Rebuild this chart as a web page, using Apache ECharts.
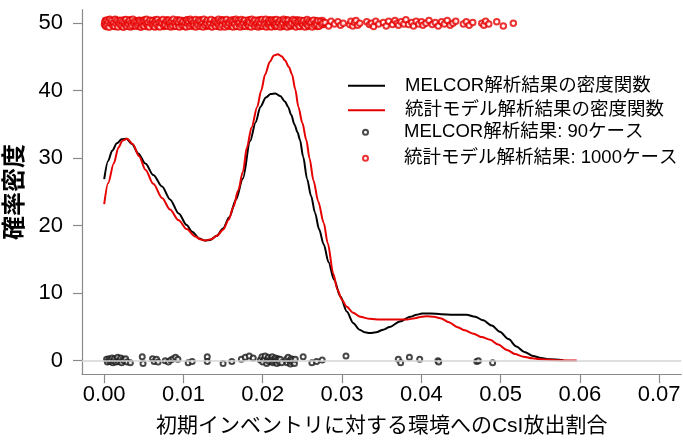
<!DOCTYPE html>
<html>
<head>
<meta charset="utf-8">
<script src="https://cdn.jsdelivr.net/npm/echarts@6/dist/echarts.min.js"></script>
<style>html,body{margin:0;padding:0;background:#fff;}#c{width:683px;height:441px;}</style>
</head>
<body>
<div id="c"></div>
<script>
// ---- data ----
const xTicks = [0, 0.01, 0.02, 0.03, 0.04, 0.05, 0.06, 0.07];
const yTicks = [0, 10, 20, 30, 40, 50];
const legendNames = ['MELCOR解析結果の密度関数', '統計モデル解析結果の密度関数', 'MELCOR解析結果: 90ケース', '統計モデル解析結果: 1000ケース'];

const melcorDensity = [
[0.0000,26.9],[0.0005,29.6],[0.0010,31.1],[0.0016,32.2],[0.0022,32.8],[0.0028,32.9],[0.0035,32.1],[0.0043,30.7],
[0.0052,29.2],[0.0062,27.5],[0.0073,25.8],[0.0083,23.9],[0.0094,21.8],[0.0104,20.1],[0.0111,19.1],[0.0120,18.1],
[0.0127,17.8],[0.0134,17.9],[0.0142,18.5],[0.0150,19.6],[0.0158,21.3],[0.0166,23.8],[0.0175,27.0],[0.0184,32.5],
[0.0191,35.3],[0.0197,37.6],[0.0204,39.0],[0.0210,39.5],[0.0216,39.6],[0.0222,39.2],[0.0228,38.4],[0.0232,37.6],
[0.0236,36.4],[0.0240,35.0],[0.0244,33.8],[0.0247,32.7],[0.0251,30.2],[0.0256,26.9],[0.0261,24.4],[0.0266,21.9],
[0.0271,19.5],[0.0277,17.2],[0.0283,14.6],[0.0290,12.0],[0.0298,9.5],[0.0306,7.3],[0.0314,5.6],[0.0322,4.6],
[0.0329,4.2],[0.0335,4.1],[0.0343,4.2],[0.0352,4.6],[0.0360,5.0],[0.0373,5.8],[0.0386,6.5],[0.0394,6.8],
[0.0401,7.0],[0.0412,7.0],[0.0425,6.9],[0.0440,6.8],[0.0457,6.8],[0.0468,6.5],[0.0478,6.0],[0.0489,5.2],
[0.0499,4.3],[0.0510,3.2],[0.0520,2.1],[0.0530,1.3],[0.0541,0.7],[0.0551,0.4],[0.0562,0.2],[0.0579,0.05]
];

const modelDensity = [
[0.0000,23.2],[0.0005,26.3],[0.0012,29.2],[0.0018,31.6],[0.0023,32.6],[0.0029,32.9],[0.0036,32.1],[0.0044,30.3],
[0.0052,28.3],[0.0062,26.2],[0.0073,24.1],[0.0083,22.4],[0.0094,20.8],[0.0104,19.5],[0.0115,18.4],[0.0121,18.0],
[0.0127,17.8],[0.0135,18.0],[0.0142,18.5],[0.0150,19.4],[0.0157,20.9],[0.0163,22.8],[0.0169,25.2],[0.0175,28.0],
[0.0180,31.6],[0.0186,34.6],[0.0193,37.6],[0.0198,40.0],[0.0203,42.4],[0.0209,44.3],[0.0214,45.2],[0.0219,45.4],
[0.0224,45.1],[0.0228,44.5],[0.0233,43.5],[0.0237,42.4],[0.0241,40.2],[0.0245,37.6],[0.0250,35.2],[0.0255,32.7],
[0.0259,30.0],[0.0264,26.7],[0.0270,23.6],[0.0277,20.4],[0.0282,17.4],[0.0289,12.9],[0.0294,10.6],[0.0300,9.0],
[0.0306,8.0],[0.0314,7.1],[0.0323,6.5],[0.0335,6.2],[0.0348,6.1],[0.0365,6.1],[0.0382,6.1],[0.0392,6.3],
[0.0400,6.5],[0.0407,6.6],[0.0416,6.5],[0.0424,6.3],[0.0435,5.7],[0.0445,5.0],[0.0455,4.5],[0.0466,4.0],
[0.0476,3.5],[0.0487,3.1],[0.0497,2.4],[0.0508,1.6],[0.0518,1.0],[0.0529,0.6],[0.0540,0.35],[0.0550,0.2],
[0.0570,0.08],[0.0596,0.02]
];

const melcorPoints = [
[0.0003,0.2],[0.0004,-0.2],[0.0006,0.3],[0.0007,-0.1],[0.0008,0.1],[0.0010,0.4],[0.0011,-0.3],[0.0012,0.0],
[0.0013,0.3],[0.0015,-0.2],[0.0016,0.2],[0.0017,0.5],[0.0018,-0.1],[0.0020,0.1],[0.0021,0.4],[0.0022,-0.3],
[0.0024,0.2],[0.0025,0.0],[0.0027,0.3],[0.0029,-0.2],[0.0033,-0.3],[0.0048,0.6],[0.0049,-0.4],
[0.0061,0.3],[0.0063,-0.1],[0.0066,0.2],[0.0068,-0.2],[0.0077,0.0],[0.0081,-0.2],[0.0084,0.1],[0.0087,0.3],
[0.0090,0.5],[0.0093,0.2],[0.0106,-0.3],[0.0111,-0.1],[0.0130,0.6],[0.0130,-0.1],
[0.0150,-0.4],[0.0161,-0.1],[0.0173,0.2],[0.0178,0.5],[0.0183,0.7],[0.0188,0.4],
[0.0197,0.1],[0.0199,0.6],[0.0200,-0.2],[0.0202,0.3],[0.0203,0.7],[0.0205,-0.4],[0.0206,0.2],[0.0207,0.5],
[0.0208,-0.1],[0.0210,0.3],[0.0211,0.0],[0.0212,0.6],[0.0213,-0.3],[0.0214,0.2],[0.0215,-0.1],[0.0216,0.4],
[0.0217,0.0],[0.0218,-0.4],[0.0219,0.3],[0.0220,0.1],[0.0221,-0.2],[0.0222,0.2],[0.0224,-0.3],
[0.0230,0.2],[0.0231,-0.3],[0.0232,0.5],[0.0234,0.0],[0.0235,-0.5],[0.0236,0.3],[0.0237,-0.2],[0.0238,0.1],
[0.0240,-0.4],[0.0241,0.2],[0.0251,0.6],[0.0262,-0.3],[0.0268,-0.1],[0.0275,0.1],[0.0305,0.7],
[0.0371,0.2],[0.0374,-0.3],[0.0385,0.5],[0.0398,0.2],[0.0421,0.0],[0.0422,-0.2],[0.0470,-0.1],[0.0472,0.0],
[0.0490,-0.3]
];

const modelPoints = [
[0.00003,49.8],[0.00014,50.4],[0.00022,49.5],[0.00035,50.1],[0.00044,49.9],[0.00056,50.5],[0.00067,49.6],[0.00078,50.2],[0.00089,49.7],
[0.00101,50.3],[0.00112,49.6],[0.00125,50.0],[0.00133,49.5],[0.00146,50.5],[0.00157,49.8],[0.00168,50.2],[0.00176,49.6],[0.00191,50.4],
[0.00205,49.7],[0.00213,50.1],[0.00227,49.5],[0.00236,50.4],[0.00248,49.9],[0.00259,50.5],[0.00263,49.6],[0.00279,50.0],[0.00288,49.8],
[0.00302,50.2],[0.00311,49.6],[0.00324,50.5],[0.00337,49.9],[0.00345,50.3],[0.00353,49.5],[0.00369,50.0],[0.00377,49.7],[0.00392,50.4],
[0.00404,49.9],[0.00416,50.3],[0.00428,49.6],[0.00433,50.1],[0.00447,49.5],[0.00458,50.4],[0.00466,49.8],[0.00481,50.2],[0.00494,49.7],
[0.00507,50.5],[0.00512,49.8],[0.00526,50.1],[0.00539,49.5],[0.00543,50.3],[0.00561,49.7],[0.00572,50.0],[0.00584,49.6],[0.00596,50.4],
[0.00603,49.6],[0.00618,50.2],[0.00625,49.9],[0.00642,50.5],[0.00651,49.5],[0.00664,50.0],[0.00679,50.3],[0.00686,49.7],[0.00697,50.1],
[0.00709,49.8],[0.00721,50.4],[0.00736,49.6],[0.00748,50.1],[0.00755,49.5],[0.00773,50.3],[0.00781,49.9],[0.00795,50.5],
[0.00806,49.7],[0.00817,50.2],[0.00832,49.6],[0.00843,50.4],[0.00857,49.9],[0.00864,50.0],[0.00878,49.5],[0.00889,50.3],[0.00897,49.8],
[0.00908,50.1],[0.00919,49.6],[0.00927,50.5],[0.00941,49.8],[0.00953,50.2],[0.00966,49.5],[0.00972,50.0],[0.00988,50.4],[0.00996,49.7],
[0.01004,50.0],[0.01016,49.5],[0.01029,50.3],[0.01037,49.8],[0.01045,50.5],[0.01058,49.6],[0.01071,50.1],[0.01083,49.9],[0.01092,50.4],
[0.01106,49.7],[0.01114,50.2],[0.01123,49.5],[0.01139,50.0],[0.01147,50.4],[0.01162,49.8],[0.01175,50.3],[0.01186,49.6],[0.01198,50.1],
[0.01203,49.9],[0.01217,50.5],[0.01229,49.6],[0.01235,50.2],[0.01251,49.7],[0.01263,50.0],[0.01276,50.4],[0.01284,49.5],[0.01295,50.1],
[0.01309,49.8],[0.01315,50.3],[0.01327,49.6],[0.01344,50.0],[0.01352,49.5],[0.01368,50.4],[0.01373,49.9],[0.01389,50.2],[0.01397,49.7],
[0.01402,50.4],[0.01418,49.8],[0.01426,50.1],[0.01437,49.5],[0.01449,50.3],[0.01456,49.7],[0.01472,50.0],[0.01485,49.6],[0.01493,50.5],
[0.01507,49.9],[0.01516,50.2],[0.01528,49.6],[0.01539,50.4],[0.01548,49.7],[0.01563,50.0],[0.01571,49.5],[0.01586,50.3],[0.01594,49.8],
[0.01605,50.1],[0.01613,49.6],[0.01629,50.5],[0.01636,49.8],[0.01652,50.2],[0.01658,49.5],[0.01674,50.0],[0.01682,49.7],[0.01697,50.4],
[0.01701,49.6],[0.01719,50.3],[0.01724,49.9],[0.01738,50.1],[0.01746,49.5],[0.01759,50.4],[0.01767,49.8],[0.01783,50.0],[0.01792,49.7],
[0.01804,50.2],[0.01812,49.5],[0.01826,50.5],[0.01838,49.8],[0.01845,50.0],[0.01857,49.6],[0.01869,50.3],[0.01878,49.9],[0.01893,50.1],
[0.01907,49.7],[0.01914,50.4],[0.01923,49.6],[0.01935,50.2],[0.01948,49.9],[0.01956,50.5],[0.01971,49.5],[0.01984,50.0],[0.01995,50.3],
[0.02006,49.8],[0.02012,50.1],[0.02027,49.6],[0.02034,50.4],[0.02049,49.7],[0.02058,50.2],[0.02066,49.5],[0.02079,50.0],[0.02087,50.5],[0.02096,49.9],
[0.02103,50.3],[0.02118,49.6],[0.02124,50.1],[0.02137,49.8],[0.02143,50.5],[0.02156,49.5],[0.02168,50.2],[0.02177,49.7],[0.02185,50.0],[0.02198,50.4],
[0.02209,49.9],[0.02214,50.3],[0.02226,49.6],[0.02238,50.0],[0.02245,49.5],[0.02259,50.4],[0.02267,49.8],[0.02273,50.2],[0.02288,49.7],[0.02294,50.1],
[0.02302,50.5],[0.02317,49.7],[0.02325,50.0],[0.02336,49.5],[0.02348,50.3],[0.02355,49.8],[0.02369,50.1],[0.02376,49.6],[0.02391,50.4],
[0.02408,49.9],[0.02413,50.2],[0.02427,49.6],[0.02436,50.5],[0.02449,49.7],[0.02458,50.0],[0.02471,49.5],[0.02484,50.3],[0.02497,49.8],
[0.02504,50.1],[0.02519,49.6],[0.02528,50.4],[0.02537,49.9],[0.02552,50.2],[0.02566,49.5],[0.02578,50.0],[0.02589,49.7],
[0.02606,50.3],[0.02617,49.8],[0.02631,50.1],[0.02645,49.6],[0.02659,50.4],[0.02673,49.9],[0.02688,49.5],
[0.02702,50.2],[0.02719,49.7],[0.02734,50.0],[0.02752,50.4],[0.02766,49.8],
[0.00008,50.15],[0.00018,49.65],[0.00029,50.45],[0.00039,49.85],[0.00051,50.25],[0.00061,49.4],[0.00072,50.6],[0.00084,49.95],[0.00095,50.35],
[0.00107,49.75],[0.00118,50.05],[0.00129,49.55],[0.00139,50.6],[0.00151,49.95],[0.00162,50.35],[0.00172,49.45],[0.00184,50.15],[0.00197,49.85],
[0.00209,50.45],[0.00219,49.65],[0.00231,50.25],[0.00242,49.4],[0.00253,50.05],[0.00268,49.75],[0.00274,50.55],[0.00284,49.55],[0.00296,50.15],
[0.00306,49.85],[0.00318,50.35],[0.00329,49.45],[0.00341,50.05],[0.00349,49.65],[0.00361,50.6],[0.00373,49.95],[0.00384,50.25],[0.00397,49.55],
[0.00409,50.15],[0.00421,49.75],[0.00438,50.45],[0.00441,49.95],[0.00452,50.25],[0.00462,49.4],[0.00474,50.05],[0.00487,49.65],[0.00499,50.35],
[0.00503,49.55],[0.00518,50.25],[0.00531,49.85],[0.00534,50.6],[0.00549,49.65],[0.00555,50.15],[0.00567,49.45],[0.00578,50.45],[0.00591,49.95],
[0.00608,50.35],[0.00612,49.75],[0.00631,50.05],[0.00637,49.45],[0.00647,50.25],[0.00658,49.85],[0.00671,50.55],[0.00683,49.55],[0.00692,50.15],
[0.00703,49.45],[0.00715,50.25],[0.00727,49.95],[0.00741,50.55],[0.00752,49.65],[0.00764,50.05],[0.00769,49.75],[0.00787,50.35],[0.00799,49.55],
[0.00811,50.45],[0.00823,49.85],[0.00828,50.15],[0.00838,49.45],[0.00851,50.25],[0.00861,49.65],[0.00872,50.6],[0.00884,49.95],[0.00893,50.05],
[0.00903,49.55],[0.00914,50.35],[0.00932,49.85],[0.00936,50.15],[0.00947,49.45],[0.00959,50.45],[0.00977,49.75],[0.00983,50.05],[0.00992,50.25],
[0.01009,49.65],[0.01021,50.15],[0.01033,49.45],[0.01041,50.45],[0.01052,49.95],[0.01064,50.25],[0.01077,49.55],[0.01087,50.6],[0.01097,49.85],
[0.01102,50.35],[0.01118,49.95],[0.01129,50.15],[0.01134,49.65],[0.01152,50.55],[0.01157,49.45],[0.01169,50.05],[0.01181,49.75],[0.01193,50.45],
[0.01208,49.55],[0.01212,50.25],[0.01224,49.85],[0.01242,50.05],[0.01246,49.45],[0.01257,50.6],[0.01269,49.75],[0.01281,50.15],[0.01291,49.95],
[0.01303,50.45],[0.01321,49.65],[0.01333,50.25],[0.01338,49.95],[0.01348,50.55],[0.01361,49.45],[0.01377,50.05],[0.01383,49.85],[0.01393,50.35],
[0.01407,49.55],[0.01412,50.15],[0.01431,49.95],[0.01443,50.6],[0.01446,49.65],[0.01461,50.25],[0.01467,49.45],[0.01479,50.45],[0.01489,49.75],
[0.01502,50.35],[0.01521,49.45],[0.01524,50.05],[0.01533,49.85],[0.01544,50.55],[0.01557,49.65],[0.01568,50.15],[0.01579,49.95],[0.01598,50.45],
[0.01609,49.75],[0.01619,50.25],[0.01624,49.45],[0.01641,50.05],[0.01647,49.85],[0.01663,50.6],[0.01669,49.55],[0.01687,50.35],[0.01692,49.95],
[0.01706,50.15],[0.01714,49.45],[0.01729,50.55],[0.01733,49.75],[0.01751,50.25],[0.01755,49.95],[0.01772,50.45],[0.01778,49.55],[0.01797,50.05],
[0.01808,49.85],[0.01819,50.35],[0.01821,49.65],[0.01833,50.15],[0.01851,49.45],[0.01862,50.6],[0.01865,49.95],[0.01884,50.25],[0.01898,49.55],
[0.01903,50.45],[0.01918,49.85],[0.01928,50.05],[0.01941,49.45],[0.01943,50.35],[0.01961,49.65],[0.01966,50.15],[0.01979,49.95],[0.01991,50.55],
[0.02003,49.55],[0.02018,50.25],[0.02022,49.85],[0.02039,50.6],[0.02044,49.45],[0.02053,50.05],[0.02071,49.75],[0.02074,50.35],[0.02083,49.95],[0.02092,50.15],
[0.02108,49.45],[0.02113,50.45],[0.02129,49.95],[0.02133,50.25],[0.02148,49.65],[0.02152,50.05],[0.02163,49.85],[0.02172,50.55],[0.02181,49.55],[0.02193,50.15],
[0.02204,50.05],[0.02219,49.45],[0.02221,50.45],[0.02233,49.75],[0.02249,50.25],[0.02253,49.95],[0.02263,50.6],[0.02279,49.55],[0.02284,50.35],[0.02298,49.85],
[0.02307,49.45],[0.02312,50.15],[0.02321,50.45],[0.02331,49.85],[0.02343,49.65],[0.02359,50.25],[0.02363,49.95],[0.02382,50.55],[0.02396,49.75],
[0.02403,50.35],[0.02418,49.45],[0.02422,50.05],[0.02441,49.85],[0.02453,50.25],[0.02463,49.55],[0.02476,50.45],[0.02489,49.95],[0.02493,50.15],
[0.02509,49.75],[0.02514,50.35],[0.02532,49.45],[0.02543,50.05],[0.02557,49.85],[0.02561,50.55],[0.02573,49.65],[0.02583,50.25],[0.02597,49.95],
[0.02611,50.15],[0.02624,49.45],[0.02638,50.45],[0.02652,49.75],[0.02666,50.05],[0.02681,49.85],[0.02695,50.35],
[0.02711,49.55],[0.02727,50.25],[0.02743,49.85],[0.02758,50.05],
[0.02787,50.1],[0.02831,49.6],[0.02862,50.3],[0.02905,49.9],[0.02948,50.2],[0.02981,49.7],[0.03015,50.0],
[0.03098,49.8],[0.03112,50.3],[0.03135,49.6],[0.03158,50.1],[0.03176,50.4],[0.03197,49.7],[0.03224,50.0],
[0.03312,50.2],[0.03346,49.8],[0.03371,50.0],[0.03398,49.5],[0.03426,50.3],[0.03462,49.9],
[0.03521,50.1],[0.03557,49.6],[0.03589,50.3],
[0.03637,49.8],[0.03668,50.4],[0.03694,50.0],[0.03712,49.7],[0.03745,50.2],[0.03781,49.9],[0.03806,50.5],[0.03839,49.8],
[0.03878,50.1],[0.03902,49.6],[0.03935,50.3],[0.03968,49.9],[0.04003,50.2],[0.04021,49.7],
[0.04058,50.0],[0.04097,50.4],[0.04139,49.8],[0.04176,50.1],[0.04214,49.6],
[0.04256,50.2],[0.04291,49.9],[0.04327,50.4],[0.04364,49.7],[0.04398,50.0],[0.04435,50.3],
[0.04531,49.9],[0.04568,50.2],[0.04604,49.7],[0.04649,50.1],
[0.04763,50.0],[0.04789,49.7],[0.04812,50.3],[0.04851,49.9],
[0.04952,50.2],[0.05035,49.6],[0.05161,50.0]
];

// ---- chart ----
const FONT = '"Liberation Sans", "Noto Sans CJK JP", sans-serif';
const AXIS_GRAY = '#8a8a8a';
const RED = '#e60000';
const chart = echarts.init(document.getElementById('c'), null, {renderer: 'canvas'});

chart.setOption({
  animation: false,
  backgroundColor: '#ffffff',
  grid: {left: 82, right: 1.7, top: 9.7, bottom: 66.8, containLabel: false, outerBoundsMode: 'none'},
  xAxis: {
    type: 'value', min: -0.0028, max: 0.0728,
    axisLine: {show: true, onZero: false, lineStyle: {color: AXIS_GRAY, width: 1.2}},
    axisTick: {show: true, length: 9, customValues: xTicks, lineStyle: {color: AXIS_GRAY, width: 1.2}},
    axisLabel: {customValues: xTicks, formatter: v => v.toFixed(2), fontSize: 22, color: '#000', margin: 10, fontFamily: FONT},
    splitLine: {show: false},
    name: '初期インベントリに対する環境へのCsI放出割合',
    nameLocation: 'middle', nameGap: 42,
    nameTextStyle: {fontSize: 21, color: '#000', fontFamily: FONT}
  },
  yAxis: {
    type: 'value', min: -2, max: 52,
    axisLine: {show: true, onZero: false, lineStyle: {color: AXIS_GRAY, width: 1.2}},
    axisTick: {show: true, length: 9, customValues: yTicks, lineStyle: {color: AXIS_GRAY, width: 1.2}},
    axisLabel: {customValues: yTicks, fontSize: 22, color: '#000', margin: 19, fontFamily: FONT},
    splitLine: {show: false},
    name: '確率密度',
    nameLocation: 'middle', nameGap: 50,
    nameTextStyle: {fontSize: 24, color: '#000', fontFamily: FONT, fontWeight: 'bold'}
  },
  legend: [
    {
      data: [{name: legendNames[0], icon: 'rect'}, {name: legendNames[1], icon: 'rect'}],
      orient: 'vertical', left: 343, top: 71.5,
      itemWidth: 37, itemHeight: 2, itemGap: 6,
      selectedMode: false,
      textStyle: {fontSize: 18.5, color: '#000', fontFamily: FONT, padding: [0, 0, 0, 15]}
    },
    {
      data: [legendNames[2], legendNames[3]],
      orient: 'vertical', left: 357, top: 118,
      itemWidth: 37, itemHeight: 5, itemGap: 7.5,
      selectedMode: false,
      textStyle: {fontSize: 18.5, color: '#000', fontFamily: FONT, padding: [0, 0, 0, 15]}
    }
  ],
  series: [
    {
      name: legendNames[2], type: 'scatter', data: melcorPoints,
      symbol: 'emptyCircle', symbolSize: 5,
      itemStyle: {color: '#1a1a1a', borderWidth: 0.8},
      markLine: {
        silent: true, symbol: 'none', animation: false,
        label: {show: false},
        lineStyle: {color: '#d4d4d4', type: 'solid', width: 1.5},
        data: [{yAxis: 0}]
      },
      z: 3
    },
    {
      name: legendNames[3], type: 'scatter', data: modelPoints,
      symbol: 'emptyCircle', symbolSize: 5.5,
      itemStyle: {color: RED, borderWidth: 1.1},
      z: 3
    },
    {
      name: legendNames[0], type: 'line', data: melcorDensity,
      symbol: 'none', smooth: 0.3, smoothMonotone: 'x',
      lineStyle: {color: '#000', width: 2}, itemStyle: {color: '#000'},
      z: 4
    },
    {
      name: legendNames[1], type: 'line', data: modelDensity,
      symbol: 'none', smooth: 0.3, smoothMonotone: 'x',
      lineStyle: {color: RED, width: 2}, itemStyle: {color: RED},
      z: 4
    }
  ]
});
</script>
</body>
</html>
